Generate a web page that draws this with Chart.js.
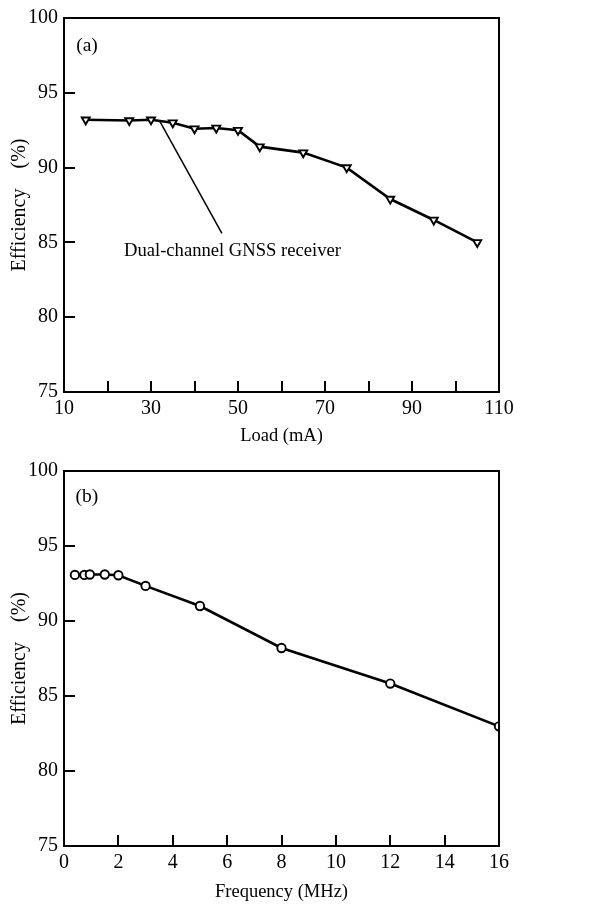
<!DOCTYPE html>
<html>
<head>
<meta charset="utf-8">
<script src="https://cdn.jsdelivr.net/npm/chart.js@4/dist/chart.umd.min.js"></script>
<style>
  html, body { margin: 0; padding: 0; background: #fff; }
  .panel { position: absolute; left: 0; width: 593px; }
  #top { top: 0; height: 453px; }
  #bottom { top: 453px; height: 454px; }
</style>
</head>
<body>
<div class="panel" id="top"><canvas id="chartA" width="593" height="453"></canvas></div>
<div class="panel" id="bottom"><canvas id="chartB" width="593" height="454"></canvas></div>
<script>
// (a) efficiency vs load
const loadMa = [15, 25, 30, 35, 40, 45, 50, 55, 65, 75, 85, 95, 105];
const effLoad = [93.2, 93.15, 93.2, 93.0, 92.6, 92.65, 92.5, 91.4, 91.0, 90.0, 87.9, 86.5, 85.0];

// (b) efficiency vs switching frequency
const freqMhz = [0.4, 0.75, 0.95, 1.5, 2, 3, 5, 8, 12, 16];
const effFreq = [93.07, 93.07, 93.1, 93.1, 93.05, 92.34, 91.0, 88.2, 85.83, 82.98];

const SERIF = '"Liberation Serif", "Times New Roman", serif';

// frame around plot area + inward tick marks + text annotations
const framePlugin = {
  id: 'frame',
  afterDatasetsDraw(chart, args, opts) {
    const ctx = chart.ctx;
    const a = chart.chartArea;
    const xs = chart.scales.x, ys = chart.scales.y;
    ctx.save();
    ctx.strokeStyle = '#000';
    ctx.lineWidth = 2;
    ctx.strokeRect(a.left, a.top, a.right - a.left, a.bottom - a.top);

    const tl = 11;
    ctx.beginPath();
    (opts.xTicks || []).forEach(v => {
      const px = Math.round(xs.getPixelForValue(v));
      ctx.moveTo(px, a.bottom);
      ctx.lineTo(px, a.bottom - tl);
    });
    (opts.yTicks || []).forEach(v => {
      const py = Math.round(ys.getPixelForValue(v));
      ctx.moveTo(a.left, py);
      ctx.lineTo(a.left + tl, py);
    });
    ctx.stroke();

    if (opts.pointer) {
      const p = opts.pointer;
      ctx.lineWidth = 1.5;
      ctx.beginPath();
      ctx.moveTo(xs.getPixelForValue(p[0]), ys.getPixelForValue(p[1]));
      ctx.lineTo(xs.getPixelForValue(p[2]), ys.getPixelForValue(p[3]));
      ctx.stroke();
    }

    ctx.fillStyle = '#000';
    ctx.textAlign = 'left';
    ctx.textBaseline = 'middle';
    (opts.labels || []).forEach(l => {
      ctx.font = l.size + 'px ' + SERIF;
      ctx.fillText(l.text, xs.getPixelForValue(l.x), ys.getPixelForValue(l.y));
    });
    ctx.restore();
  }
};

function makeChart(id, xs, ys, cfg) {
  return new Chart(document.getElementById(id), {
    type: 'line',
    data: {
      datasets: [{
        data: xs.map((x, i) => ({ x: x, y: ys[i] })),
        borderColor: '#000',
        borderWidth: 2.6,
        pointStyle: cfg.pointStyle,
        rotation: cfg.rotation,
        pointRadius: cfg.pointRadius,
        pointBorderWidth: 1.9,
        pointBackgroundColor: '#fff',
        pointBorderColor: '#000',
        tension: 0
      }]
    },
    options: {
      responsive: false,
      animation: false,
      layout: { padding: { left: 0, right: 94, top: 15, bottom: 0 } },
      plugins: {
        legend: { display: false },
        tooltip: { enabled: false },
        frame: cfg.frame
      },
      scales: {
        x: {
          type: 'linear',
          min: cfg.xMin, max: cfg.xMax,
          grid: { display: false, drawTicks: false },
          border: { display: false },
          afterFit: s => { s.height = 61; },
          ticks: {
            stepSize: cfg.xStep,
            autoSkip: false,
            maxRotation: 0,
            padding: 5,
            color: '#000',
            font: { family: SERIF, size: 20 },
            callback: cfg.xLabel
          },
          title: {
            display: true,
            text: cfg.xTitle,
            color: '#000',
            font: { family: SERIF, size: 18.5 },
            padding: { top: 0, bottom: cfg.xTitlePad }
          }
        },
        y: {
          min: 75, max: 100,
          grid: { display: false, drawTicks: false },
          border: { display: false },
          afterFit: s => { s.width = 64; },
          ticks: {
            stepSize: 5,
            padding: 6,
            color: '#000',
            font: { family: SERIF, size: 20 }
          },
          title: {
            display: true,
            text: 'Efficiency    (%)',
            color: '#000',
            font: { family: SERIF, size: 20 },
            padding: { top: 8, bottom: 0 }
          }
        }
      }
    },
    plugins: [framePlugin]
  });
}

makeChart('chartA', loadMa, effLoad, {
  pointStyle: 'triangle', rotation: 180, pointRadius: 4.6,
  xMin: 10, xMax: 110, xStep: 10,
  xLabel: v => ((v - 10) % 20 === 0 ? v : ''),
  xTitle: 'Load (mA)', xTitlePad: 6,
  frame: {
    xTicks: [20, 30, 40, 50, 60, 70, 80, 90, 100],
    yTicks: [80, 85, 90, 95],
    pointer: [32, 93.1, 46.3, 85.6],
    labels: [
      { text: '(a)', x: 12.8, y: 98.15, size: 19.5 },
      { text: 'Dual-channel GNSS receiver', x: 23.8, y: 84.4, size: 18.6 }
    ]
  }
});

makeChart('chartB', freqMhz, effFreq, {
  pointStyle: 'circle', rotation: 0, pointRadius: 4.2,
  xMin: 0, xMax: 16, xStep: 2,
  xLabel: v => v,
  xTitle: 'Frequency (MHz)', xTitlePad: 4,
  frame: {
    xTicks: [2, 4, 6, 8, 10, 12, 14],
    yTicks: [80, 85, 90, 95],
    labels: [
      { text: '(b)', x: 0.42, y: 98.3, size: 19.5 }
    ]
  }
});
</script>
</body>
</html>
